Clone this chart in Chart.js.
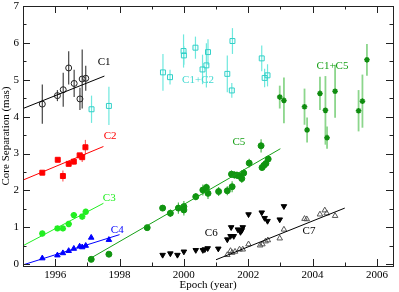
<!DOCTYPE html>
<html>
<head>
<meta charset="utf-8">
<script src="https://cdn.jsdelivr.net/npm/chart.js@4/dist/chart.umd.min.js"></script>
<style>
  body { margin: 0; background: #fff; }
  #wrap { width: 399px; height: 292px; }
</style>
</head>
<body>
<div id="wrap"><canvas id="jets" width="399" height="292"></canvas></div>
<script>
// component C1
var c1Years = [1995.6, 1996.07, 1996.25, 1996.42, 1996.59, 1996.77, 1996.84, 1996.95];
var c1Sep = [4.34, 4.57, 4.73, 5.32, 4.90, 4.48, 5.02, 5.04];
var c1Err = [0.53, 0.15, 0.46, 0.45, 0.37, 0.30, 0.80, 0.34];

// blended C1+C2
var c12Years = [1997.13, 1997.67, 1999.35, 1999.57, 1999.99, 2000.0, 2000.36, 2000.58, 2000.70, 2000.75, 2001.35, 2001.49, 2001.51, 2002.42, 2002.51, 2002.60];
var c12Sep = [4.20, 4.29, 5.20, 5.07, 5.78, 5.66, 5.87, 5.28, 5.39, 5.75, 5.16, 4.71, 6.05, 5.58, 5.05, 5.12];
var c12Err = [0.37, 0.52, 0.50, 0.20, 0.45, 0.25, 0.30, 0.40, 0.60, 0.35, 0.50, 0.20, 0.35, 0.35, 0.25, 0.30];

// blended C1+C5
var c15Years = [2002.98, 2003.11, 2003.75, 2003.83, 2004.23, 2004.40, 2004.45, 2004.70, 2005.43, 2005.55, 2005.69];
var c15Sep = [4.53, 4.44, 4.27, 3.64, 4.63, 4.17, 3.43, 4.69, 4.16, 4.42, 5.54];
var c15Err = [0.31, 0.62, 0.49, 0.34, 0.45, 0.93, 0.30, 0.72, 0.56, 0.72, 0.43];

var c2Years = [1995.6, 1996.08, 1996.24, 1996.42, 1996.58, 1996.76, 1996.84, 1996.94];
var c2Sep = [2.48, 2.83, 2.39, 2.72, 2.78, 2.95, 2.90, 3.17];
var c2Err = [0.05, 0.05, 0.15, 0.05, 0.08, 0.05, 0.13, 0.20];

var c3Years = [1995.6, 1996.07, 1996.24, 1996.42, 1996.58, 1996.84, 1996.95];
var c3Sep = [0.83, 0.97, 0.97, 1.09, 1.33, 1.29, 1.42];
var c3Err = [0.06, 0.06, 0.06, 0.06, 0.08, 0.08, 0.07];

var c4Years = [1995.6, 1996.07, 1996.24, 1996.42, 1996.58, 1996.76, 1996.84, 1996.95, 1997.12, 1997.67];
var c4Sep = [0.16, 0.24, 0.30, 0.36, 0.42, 0.48, 0.46, 0.50, 0.72, 0.66];

var c5Years = [1997.12, 1997.67, 1998.86, 1999.34, 1999.58, 1999.83, 2000.0, 2000.0, 2000.37, 2000.59, 2000.70, 2000.75, 2001.08, 2001.35, 2001.50, 2001.48, 2001.57, 2001.65, 2001.73, 2001.80, 2001.86, 2002.03, 2002.40, 2002.43, 2002.49, 2002.55, 2002.62];
var c5Sep = [0.13, 0.27, 0.99, 1.52, 1.38, 1.52, 1.47, 1.56, 1.83, 2.01, 2.08, 1.92, 1.97, 1.99, 2.10, 2.44, 2.42, 2.41, 2.39, 2.32, 2.47, 2.74, 3.21, 2.62, 2.68, 2.73, 2.85];
var c5Err = [0.05, 0.05, 0.05, 0.08, 0.10, 0.15, 0.15, 0.15, 0.10, 0.15, 0.10, 0.15, 0.12, 0.12, 0.15, 0.10, 0.10, 0.10, 0.10, 0.12, 0.10, 0.12, 0.18, 0.08, 0.08, 0.08, 0.08];

var c6Years = [1999.34, 1999.58, 1999.80, 2000.0, 2000.37, 2000.59, 2000.65, 2000.74, 2001.07, 2001.35, 2001.45, 2001.47, 2001.55, 2001.68, 2001.76, 2001.80, 2001.83, 2002.01, 2002.42, 2002.51, 2002.60, 2002.98, 2003.11];
var c6Sep = [0.25, 0.29, 0.25, 0.34, 0.38, 0.38, 0.40, 0.43, 0.42, 0.67, 0.76, 1.00, 0.76, 0.94, 0.87, 0.92, 1.00, 1.35, 1.40, 1.25, 1.17, 1.21, 1.57];

var c7Years = [2001.35, 2001.45, 2001.50, 2001.59, 2001.73, 2001.83, 2002.01, 2002.37, 2002.44, 2002.54, 2002.61, 2002.98, 2003.11, 2003.75, 2003.82, 2004.23, 2004.38, 2004.44, 2004.70];
var c7Sep = [0.25, 0.36, 0.31, 0.34, 0.40, 0.40, 0.54, 0.51, 0.54, 0.62, 0.65, 0.70, 0.94, 1.23, 1.22, 1.35, 1.46, 1.38, 1.31];

// linear fits, end points
var fitC1 = { years: [1995.0, 1997.53], sep: [4.22, 5.10] };
var fitC2 = { years: [1995.0, 1997.5], sep: [2.28, 3.19] };
var fitC3 = { years: [1995.0, 1997.5], sep: [0.50, 1.65] };
var fitC4 = { years: [1995.0, 1998.0], sep: [-0.02, 0.80] };
var fitC5 = { years: [1997.1, 2003.0], sep: [0.16, 3.13] };
var fitC7 = { years: [2001.0, 2005.0], sep: [0.12, 1.52] };

var xTicks = [1996, 1998, 2000, 2002, 2004, 2006];
var yTicks = [0, 1, 2, 3, 4, 5, 6, 7];

var tagNames = ['C1', 'C1+C2', 'C1+C5', 'C2', 'C3', 'C4', 'C5', 'C6', 'C7'];
var tagYears = [1997.52, 2000.44, 2004.62, 1997.71, 1997.68, 1997.93, 2001.71, 2000.85, 2003.89];
var tagSep = [5.48, 4.99, 5.37, 3.47, 1.78, 0.92, 3.31, 0.83, 0.90];
var tagColors = ['#000', '#40d8d0', '#16a016', '#ff0000', '#22ee22', '#0000ff', '#16a016', '#000', '#000'];

function pts(xs, ys) {
  return xs.map(function(x, i) { return { x: x, y: ys[i] }; });
}

var serif = '"Liberation Serif", "DejaVu Serif", serif';

function pointSet(label, xs, ys, opts) {
  return Object.assign({
    label: label,
    data: pts(xs, ys),
    showLine: false,
    borderWidth: 1,
    pointRadius: 3
  }, opts);
}

function fitSet(fit, color) {
  return {
    label: 'fit',
    data: pts(fit.years, fit.sep),
    showLine: true,
    borderColor: color,
    borderWidth: 1,
    pointRadius: 0,
    fill: false
  };
}

var errorSets = [
  { years: c1Years, sep: c1Sep, err: c1Err, color: '#444444', w: 1.2 },
  { years: c12Years, sep: c12Sep, err: c12Err, color: '#6fe8de', w: 1.2 },
  { years: c15Years, sep: c15Sep, err: c15Err, color: '#8cd68c', w: 1.8 },
  { years: c2Years, sep: c2Sep, err: c2Err, color: '#ff6060', w: 1.2 },
  { years: c3Years, sep: c3Sep, err: c3Err, color: '#22ee22', w: 1.2 },
  { years: c5Years, sep: c5Sep, err: c5Err, color: '#50b850', w: 1.2 }
];

var errorBars = {
  id: 'errorBars',
  beforeDatasetsDraw: function(chart) {
    var ctx = chart.ctx, xs = chart.scales.x, ys = chart.scales.y;
    ctx.save();
    errorSets.forEach(function(s) {
      ctx.strokeStyle = s.color;
      ctx.lineWidth = s.w;
      s.years.forEach(function(yr, i) {
        var px = xs.getPixelForValue(yr);
        ctx.beginPath();
        ctx.moveTo(px, ys.getPixelForValue(s.sep[i] - s.err[i]));
        ctx.lineTo(px, ys.getPixelForValue(s.sep[i] + s.err[i]));
        ctx.stroke();
      });
    });
    ctx.restore();
  }
};

var frame = {
  id: 'frame',
  afterDraw: function(chart) {
    var ctx = chart.ctx, a = chart.chartArea, xs = chart.scales.x, ys = chart.scales.y;
    ctx.save();
    ctx.strokeStyle = '#222';
    ctx.lineWidth = 1;
    ctx.strokeRect(Math.round(a.left) + 0.5, Math.round(a.top) + 0.5,
      Math.round(a.right - a.left), Math.round(a.bottom - a.top));
    ctx.beginPath();
    for (var yr = 1995; yr <= 2006; yr++) {
      var len = yr % 2 === 0 ? 7 : 3.5;
      var px = Math.round(xs.getPixelForValue(yr)) + 0.5;
      ctx.moveTo(px, a.bottom); ctx.lineTo(px, a.bottom - len);
      ctx.moveTo(px, a.top); ctx.lineTo(px, a.top + len);
    }
    for (var v = 0; v <= 7; v += 0.5) {
      var l = v % 1 === 0 ? 7 : 3.5;
      var py = Math.round(ys.getPixelForValue(v)) + 0.5;
      ctx.moveTo(a.left, py); ctx.lineTo(a.left + l, py);
      ctx.moveTo(a.right, py); ctx.lineTo(a.right - l, py);
    }
    ctx.stroke();

    ctx.font = '11px ' + serif;
    ctx.fillStyle = '#000';
    ctx.textBaseline = 'middle';
    ctx.textAlign = 'center';
    xTicks.forEach(function(t) {
      ctx.fillText(String(t), xs.getPixelForValue(t), a.bottom + 9);
    });
    ctx.textAlign = 'right';
    yTicks.forEach(function(t) {
      ctx.fillText(String(t), a.left - 4, ys.getPixelForValue(t));
    });
    ctx.textAlign = 'center';
    ctx.fillText('Epoch (year)', (a.left + a.right) / 2, a.bottom + 19);
    ctx.save();
    ctx.translate(6, (a.top + a.bottom) / 2);
    ctx.rotate(-Math.PI / 2);
    ctx.fillText('Core Separation (mas)', 0, 0);
    ctx.restore();

    tagNames.forEach(function(t, i) {
      ctx.fillStyle = tagColors[i];
      ctx.fillText(t, xs.getPixelForValue(tagYears[i]), ys.getPixelForValue(tagSep[i]));
    });
    ctx.restore();
  }
};

new Chart(document.getElementById('jets'), {
  type: 'scatter',
  data: {
    datasets: [
      fitSet(fitC1, '#000'),
      fitSet(fitC2, '#ff0000'),
      fitSet(fitC3, '#22ee22'),
      fitSet(fitC4, '#0000ff'),
      fitSet(fitC5, '#16a016'),
      fitSet(fitC7, '#000'),
      pointSet('C1', c1Years, c1Sep, { pointStyle: 'circle', borderColor: '#222', backgroundColor: 'rgba(0,0,0,0)' }),
      pointSet('C1+C2', c12Years, c12Sep, { pointStyle: 'rect', borderColor: '#30d0c8', backgroundColor: 'rgba(0,0,0,0)', pointRadius: 3.5 }),
      pointSet('C1+C5', c15Years, c15Sep, { pointStyle: 'star', borderColor: '#108c10', borderWidth: 1.5, pointRadius: 2.8 }),
      pointSet('C2', c2Years, c2Sep, { pointStyle: 'rect', borderColor: '#ff0000', backgroundColor: '#ff0000', pointRadius: 3.5 }),
      pointSet('C3', c3Years, c3Sep, { pointStyle: 'star', borderColor: '#22ee22', borderWidth: 2, pointRadius: 3.2 }),
      pointSet('C4', c4Years, c4Sep, { pointStyle: 'triangle', borderColor: '#0000ff', backgroundColor: '#0000ff', pointRadius: 3.2 }),
      pointSet('C5', c5Years, c5Sep, { pointStyle: 'circle', borderColor: '#109410', backgroundColor: '#109410' }),
      pointSet('C6', c6Years, c6Sep, { pointStyle: 'triangle', rotation: 180, borderColor: '#000', backgroundColor: '#000', pointRadius: 3.2 }),
      pointSet('C7', c7Years, c7Sep, { pointStyle: 'triangle', borderColor: '#555', backgroundColor: 'rgba(0,0,0,0)', pointRadius: 3.2 })
    ]
  },
  options: {
    responsive: false,
    animation: false,
    layout: { padding: { top: 3, right: 1, left: 0, bottom: 0 } },
    plugins: { legend: { display: false }, tooltip: { enabled: false } },
    scales: {
      x: {
        type: 'linear',
        min: 1995,
        max: 2006.5,
        afterFit: function(s) { s.height = 26; },
        grid: { display: false },
        border: { display: false },
        ticks: { display: false }
      },
      y: {
        type: 'linear',
        min: -0.05,
        max: 7,
        afterFit: function(s) { s.width = 23; },
        grid: { display: false },
        border: { display: false },
        ticks: { display: false }
      }
    }
  },
  plugins: [errorBars, frame]
});
</script>
</body>
</html>
